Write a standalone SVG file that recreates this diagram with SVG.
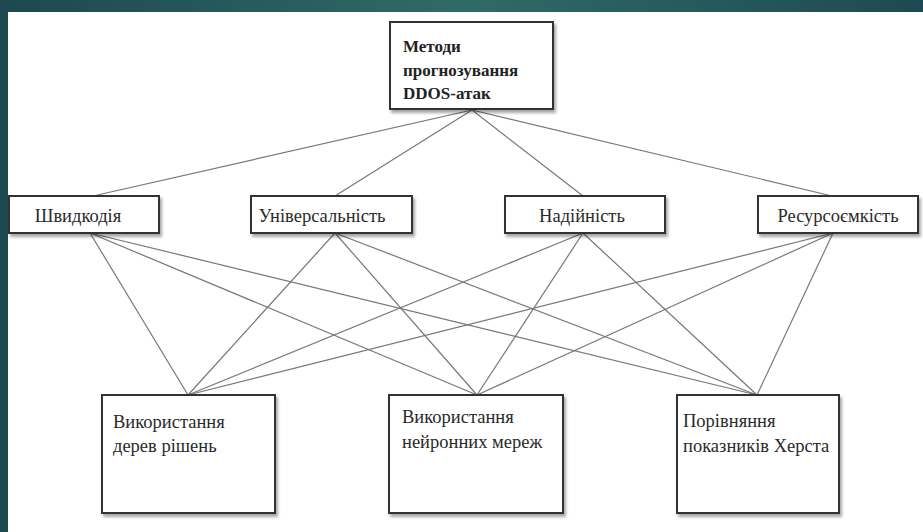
<svg xmlns="http://www.w3.org/2000/svg" width="923" height="532" viewBox="0 0 923 532">
<defs>
<linearGradient id="bg" x1="0" y1="0" x2="1" y2="0">
<stop offset="0" stop-color="#1d4850"/>
<stop offset="0.5" stop-color="#2f6b66"/>
<stop offset="1" stop-color="#1d4a52"/>
</linearGradient>
<filter id="sh" x="-10%" y="-10%" width="130%" height="140%">
<feDropShadow dx="2" dy="3" stdDeviation="1.5" flood-color="#000" flood-opacity="0.35"/>
</filter>
<style>
.box{fill:#fff;stroke:#333;stroke-width:2;filter:url(#sh)}
.ln{stroke:#777;stroke-width:1.2;fill:none}
.t{font-family:"Liberation Serif","Times New Roman",serif;font-size:18.5px;fill:#2a2a2a}
.tb{font-family:"Liberation Serif","Times New Roman",serif;font-size:17px;font-weight:bold;fill:#222}
</style>
</defs>
<rect x="0" y="0" width="923" height="532" fill="url(#bg)"/>
<rect x="8" y="12" width="915" height="520" fill="#fff"/>
<g id="connectors">
<line class="ln" x1="472" y1="110" x2="93" y2="196"/>
<line class="ln" x1="472" y1="110" x2="335" y2="196"/>
<line class="ln" x1="472" y1="110" x2="583" y2="196"/>
<line class="ln" x1="472" y1="110" x2="832" y2="196"/>
<line class="ln" x1="90" y1="233" x2="188" y2="395"/>
<line class="ln" x1="90" y1="233" x2="477" y2="395"/>
<line class="ln" x1="90" y1="233" x2="757" y2="395"/>
<line class="ln" x1="335" y1="233" x2="188" y2="395"/>
<line class="ln" x1="335" y1="233" x2="477" y2="395"/>
<line class="ln" x1="335" y1="233" x2="757" y2="395"/>
<line class="ln" x1="583" y1="233" x2="188" y2="395"/>
<line class="ln" x1="583" y1="233" x2="477" y2="395"/>
<line class="ln" x1="583" y1="233" x2="757" y2="395"/>
<line class="ln" x1="833" y1="233" x2="188" y2="395"/>
<line class="ln" x1="833" y1="233" x2="477" y2="395"/>
<line class="ln" x1="833" y1="233" x2="757" y2="395"/>
</g>
<g id="n-root">
<rect class="box" x="390" y="22" width="163" height="87"/>
<text class="tb" x="403" y="52">Методи</text>
<text class="tb" x="403" y="76">прогнозування</text>
<text class="tb" x="403" y="99">DDOS-атак</text>
</g>
<g id="n-speed">
<rect class="box" x="9" y="196" width="150" height="37"/>
<text class="t" x="78" y="222" text-anchor="middle">Швидкодія</text>
</g>
<g id="n-univ">
<rect class="box" x="251" y="196" width="161" height="37"/>
<text class="t" x="322" y="222" text-anchor="middle">Універсальність</text>
</g>
<g id="n-rel">
<rect class="box" x="505" y="196" width="160" height="37"/>
<text class="t" x="582" y="222" text-anchor="middle">Надійність</text>
</g>
<g id="n-res">
<rect class="box" x="758" y="196" width="160" height="37"/>
<text class="t" x="838" y="222" text-anchor="middle">Ресурсоємкість</text>
</g>
<g id="n-trees">
<rect class="box" x="102" y="395" width="173" height="118"/>
<text class="t" x="113" y="428">Використання</text>
<text class="t" x="113" y="452">дерев рішень</text>
</g>
<g id="n-nn">
<rect class="box" x="389" y="395" width="174" height="118"/>
<text class="t" x="402" y="423">Використання</text>
<text class="t" x="402" y="448">нейронних мереж</text>
</g>
<g id="n-hurst">
<rect class="box" x="677" y="395" width="162" height="118"/>
<text class="t" x="683" y="427">Порівняння</text>
<text class="t" x="683" y="452">показників Херста</text>
</g>
</svg>
